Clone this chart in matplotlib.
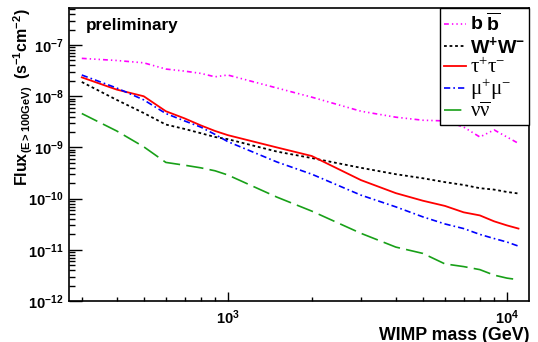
"""Flux upper limits vs WIMP mass for several annihilation channels."""

import math

import matplotlib
matplotlib.use("Agg")
import matplotlib.pyplot as plt
import matplotlib.ticker as mticker

plt.rcParams["font.family"] = ["Liberation Sans", "DejaVu Sans"]
plt.rcParams["mathtext.fontset"] = "custom"
plt.rcParams["mathtext.rm"] = "Liberation Serif"
plt.rcParams["mathtext.it"] = "Liberation Serif:italic"
plt.rcParams["mathtext.bf"] = "Liberation Sans:bold"
plt.rcParams["mathtext.sf"] = "Liberation Sans"
plt.rcParams["lines.scale_dashes"] = False

# WIMP mass grid (GeV)
mass = [300, 400, 500, 600, 700, 800, 900, 1000, 1500, 2000, 3000,
        4000, 5000, 6000, 7000, 8000, 9000, 10000, 11000]

# integrated flux limits above 100 GeV (s^-1 cm^-2)
flux_bb = [5.5e-8, 5.0e-8, 4.5e-8, 3.4e-8, 3.1e-8, 2.8e-8, 2.4e-8, 2.6e-8,
           1.45e-8, 9.6e-9, 5.1e-9, 3.9e-9, 3.4e-9, 3.3e-9, 2.5e-9, 1.6e-9,
           2.2e-9, 1.6e-9, 1.2e-9]
flux_ww = [1.9e-8, 8.5e-9, 4.7e-9, 2.8e-9, 2.3e-9, 1.9e-9, 1.6e-9, 1.45e-9,
           8.3e-10, 6.2e-10, 4.0e-10, 3.0e-10, 2.5e-10, 2.1e-10, 1.85e-10,
           1.6e-10, 1.5e-10, 1.35e-10, 1.26e-10]
flux_tautau = [2.34e-8, 1.35e-8, 1.0e-8, 5.1e-9, 3.7e-9, 2.7e-9, 2.1e-9,
               1.74e-9, 1.0e-9, 6.8e-10, 2.3e-10, 1.28e-10, 9.1e-11, 7.2e-11,
               5.4e-11, 4.7e-11, 3.6e-11, 3.0e-11, 2.6e-11]
flux_mumu = [2.6e-8, 1.45e-8, 8.5e-9, 4.6e-9, 3.3e-9, 2.5e-9, 1.8e-9, 1.3e-9,
             5.2e-10, 3.0e-10, 1.17e-10, 6.9e-11, 4.4e-11, 3.2e-11, 2.6e-11,
             2.0e-11, 1.66e-11, 1.42e-11, 1.18e-11]
flux_nunu = [4.6e-9, 2.1e-9, 1.03e-9, 5.1e-10, 4.5e-10, 4.0e-10, 3.5e-10,
             2.9e-10, 1.07e-10, 5.7e-11, 2.1e-11, 1.13e-11, 8.5e-12, 5.3e-12,
             4.7e-12, 4.1e-12, 3.2e-12, 2.8e-12, 2.6e-12]

channel_labels = [r"$\mathbf{b\ \overline{b}}$", r"$\mathbf{W^{+}W^{-}}$",
                  r"$\mathrm{τ^{+}τ^{-}}$", r"$\mathrm{μ^{+}μ^{-}}$",
                  r"$\mathrm{ν\overline{ν}}$"]
label_sizes = [14, 14, 15, 15, 15]

fig = plt.figure(figsize=(5.38, 3.42), dpi=100)
ax = fig.add_axes([0.1283, 0.1199, 0.855, 0.8567])

ax.plot(mass, flux_bb, color="#ff00ff", lw=1.2,
        dashes=(3.5, 2.2, 1.0, 2.2, 1.0, 2.2, 1.0, 2.2), label=channel_labels[0])
ax.plot(mass, flux_ww, color="black", lw=1.3, dashes=(2.0, 2.0),
        label=channel_labels[1])
ax.plot(mass, flux_tautau, color="#ff0000", lw=1.3, label=channel_labels[2])
ax.plot(mass, flux_mumu, color="#0000ff", lw=1.2, dashes=(4.5, 2.2, 1.2, 2.2),
        label=channel_labels[3])
ax.plot(mass, flux_nunu, color="#18a018", lw=1.2, dashes=(12.5, 4.5),
        label=channel_labels[4])

ax.set_xscale("log")
ax.set_yscale("log")
ax.set_xlim(270, 12000)
ax.set_ylim(1e-12, 5.3e-7)

ax.yaxis.set_major_locator(mticker.FixedLocator([1e-12, 1e-11, 1e-10, 1e-9, 1e-8, 1e-7]))
ax.yaxis.set_minor_locator(mticker.LogLocator(base=10, subs=range(2, 10), numticks=20))
ax.xaxis.set_major_locator(mticker.FixedLocator([1e3, 1e4]))
ax.xaxis.set_minor_locator(mticker.LogLocator(base=10, subs=range(2, 10), numticks=20))
expfmt = mticker.FuncFormatter(lambda v, _: r"$\mathbf{10^{%d}}$" % round(math.log10(v)))
ax.yaxis.set_major_formatter(expfmt)
ax.xaxis.set_major_formatter(expfmt)
ax.yaxis.set_minor_formatter(mticker.NullFormatter())
ax.xaxis.set_minor_formatter(mticker.NullFormatter())

ax.tick_params(axis="both", which="both", direction="in", top=False, right=False,
               labelsize=10.5, width=1.0)
ax.tick_params(axis="y", which="major", length=9, pad=4)
ax.tick_params(axis="y", which="minor", length=4.3)
ax.tick_params(axis="x", which="major", length=6.7, pad=5)
ax.tick_params(axis="x", which="minor", length=3.1)
for sp in ax.spines.values():
    sp.set_linewidth(1.2)

ax.set_xlabel("WIMP mass (GeV)", fontsize=12.8, fontweight="bold", loc="right",
              labelpad=0)
ax.set_ylabel(r"$\mathbf{Flux_{(E>100GeV)}\ \ (s^{-1}cm^{-2})}$", fontsize=11.5,
              loc="top")
ax.yaxis.set_label_coords(-0.075, 1.0)

ax.text(0.037, 0.94, "preliminary", transform=ax.transAxes, fontsize=12.3,
        fontweight="bold", va="center", ha="left")

leg = ax.legend(loc="upper right", bbox_to_anchor=(1.0, 1.0), borderaxespad=0,
                fancybox=False, edgecolor="black", framealpha=1, fontsize=14,
                handlelength=1.15, handletextpad=0.2, labelspacing=0.0,
                borderpad=0.2)
leg.get_frame().set_linewidth(1.0)
for txt, size in zip(leg.get_texts(), label_sizes):
    txt.set_fontsize(size)

fig.savefig("out.png", dpi=100)
